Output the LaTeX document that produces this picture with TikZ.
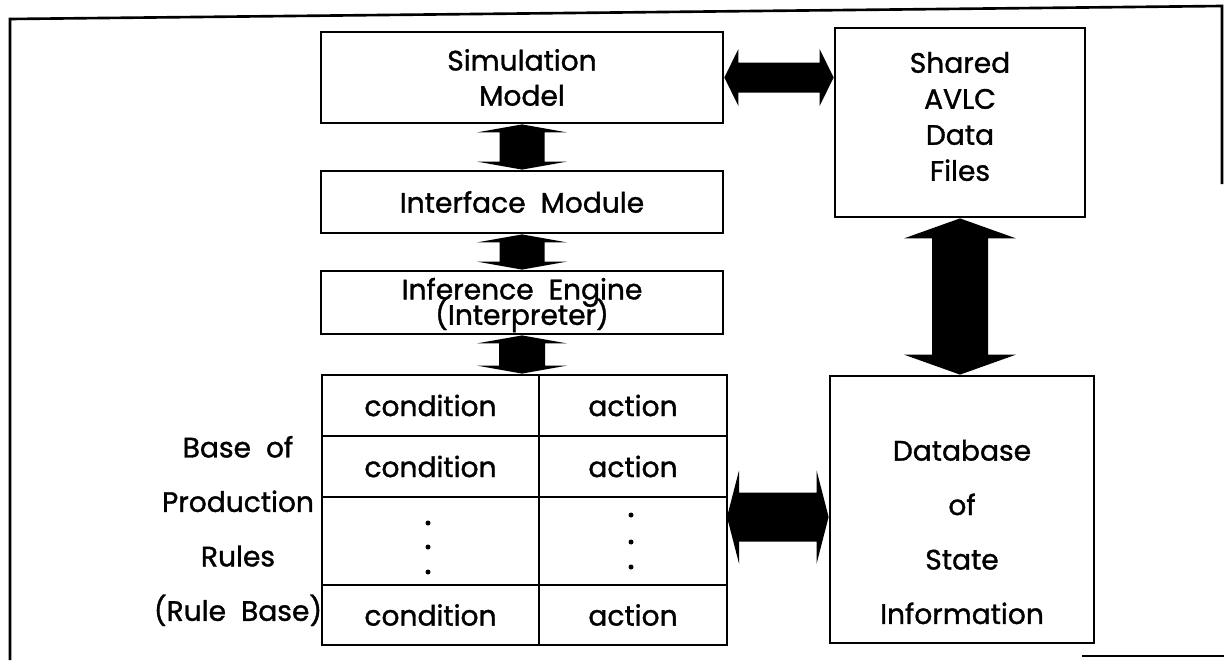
\documentclass[tikz,border=0pt]{standalone}
\usepackage{fontspec}
\setmainfont{Poppins}[FakeBold=1.2]
\usetikzlibrary{calc}

% text size used throughout
\newcommand\lblfont{\fontsize{16}{20}\selectfont}

% fat double-headed vertical arrow: upper point, lower point,
% shaft half width, head half width, head length
\newcommand\vdarrow[5]{%
  \fill let \p1=(#1), \p2=(#2) in
    (\x1,\y1) -- (\x1+#4,\y1-#5) -- (\x1+#3,\y1-#5) -- (\x1+#3,\y2+#5)
    -- (\x1+#4,\y2+#5) -- (\x1,\y2) -- (\x1-#4,\y2+#5) -- (\x1-#3,\y2+#5)
    -- (\x1-#3,\y1-#5) -- (\x1-#4,\y1-#5) -- cycle;}

% fat double-headed horizontal arrow: left point, right point,
% shaft half width, head half width, head length
\newcommand\hdarrow[5]{%
  \fill let \p1=(#1), \p2=(#2) in
    (\x1,\y1) -- (\x1+#5,\y1+#4) -- (\x1+#5,\y1+#3) -- (\x2-#5,\y1+#3)
    -- (\x2-#5,\y1+#4) -- (\x2,\y1) -- (\x2-#5,\y1-#4) -- (\x2-#5,\y1-#3)
    -- (\x1+#5,\y1-#3) -- (\x1+#5,\y1-#4) -- cycle;}

\tikzset{
  box/.style={draw, line width=1.6pt, inner sep=0pt, align=center, font=\lblfont},
  cell/.style={box, minimum width=#1},
  txt/.style={inner sep=0pt, align=center},
  frameline/.style={line width=1.5pt},
  vdot/.style={circle, fill, inner sep=0pt, minimum size=0.1cm},
}

\begin{document}
\begin{tikzpicture}[x=0.02cm, y=-0.02cm]
  \useasboundingbox (0,0) rectangle (1224,660);

  % outer frame
  \draw[frameline] (10,660) -- (10,19) -- (1222,6) -- (1222,184);
  \draw[frameline] (1082,656) -- (1224,656);

  % left column of modules
  \node[box, minimum width=8.04cm, minimum height=1.82cm] (sim) at (522,77.5)
    {Simulation\\Model};
  \node[box, minimum width=8.04cm, minimum height=1.24cm] (iface) at (522,202)
    {Interface\ \ Module};
  \node[box, minimum width=8.04cm, minimum height=1.26cm] (inf) at (522,302.5) {};
  \node[txt, font={\fontsize{16}{14.5}\selectfont\lineskiplimit=-20pt}] (inft)
    at (522,305) {Inference\ \ Engine\\(Interpreter)};

  % rule base table
  \node[cell=4.34cm, minimum height=1.22cm] (c1) at (430.5,405.5) {condition};
  \node[cell=3.76cm, minimum height=1.22cm] (a1) at (633,405.5) {action};
  \node[cell=4.34cm, minimum height=1.22cm] (c2) at (430.5,466.5) {condition};
  \node[cell=3.76cm, minimum height=1.22cm] (a2) at (633,466.5) {action};
  \node[cell=4.34cm, minimum height=1.76cm] (c3) at (430.5,541) {};
  \node[cell=3.76cm, minimum height=1.76cm] (a3) at (633,541) {};
  \node[cell=4.34cm, minimum height=1.2cm] (c4) at (430.5,615) {condition};
  \node[cell=3.76cm, minimum height=1.2cm] (a4) at (633,615) {action};

  \node[vdot] (cd1) at (428,523) {};
  \node[vdot] (cd2) at (428,547) {};
  \node[vdot] (cd3) at (428,572) {};
  \node[vdot] (ad1) at (631,515) {};
  \node[vdot] (ad2) at (631,542) {};
  \node[vdot] (ad3) at (631,567) {};

  \node[txt, font={\fontsize{16}{31}\selectfont}] (rbl) at (238,531)
    {Base\ \ of\\Production\\Rules\\(Rule\ \ Base)};

  % right column
  \node[box, minimum width=5cm, minimum height=3.78cm] (sh) at (960,122.5) {};
  \node[txt, font={\fontsize{16}{20.5}\selectfont}] (sht) at (960,116.5)
    {Shared\\AVLC\\Data\\Files};
  \node[box, minimum width=5.28cm, minimum height=5.34cm] (db) at (962,509.5) {};
  \node[txt, font={\fontsize{16}{31}\selectfont}] (dbt) at (962,532)
    {Database\\of\\State\\Information};

  % fat data-flow arrows
  \vdarrow{sim.south}{iface.north}{0.45cm}{0.9cm}{0.16cm}
  \vdarrow{iface.south}{inf.north}{0.45cm}{0.9cm}{0.16cm}
  \vdarrow{inf.south}{inf.south |- c1.north}{0.46cm}{0.9cm}{0.16cm}
  \vdarrow{sh.south}{sh.south |- db.north}{0.56cm}{1.12cm}{0.4cm}
  \hdarrow{sim.east}{sim.east -| sh.west}{0.3cm}{0.57cm}{0.28cm}
  \coordinate (ra) at (727,517);
  \hdarrow{ra}{ra -| db.west}{0.49cm}{0.93cm}{0.24cm}
\end{tikzpicture}
\end{document}
